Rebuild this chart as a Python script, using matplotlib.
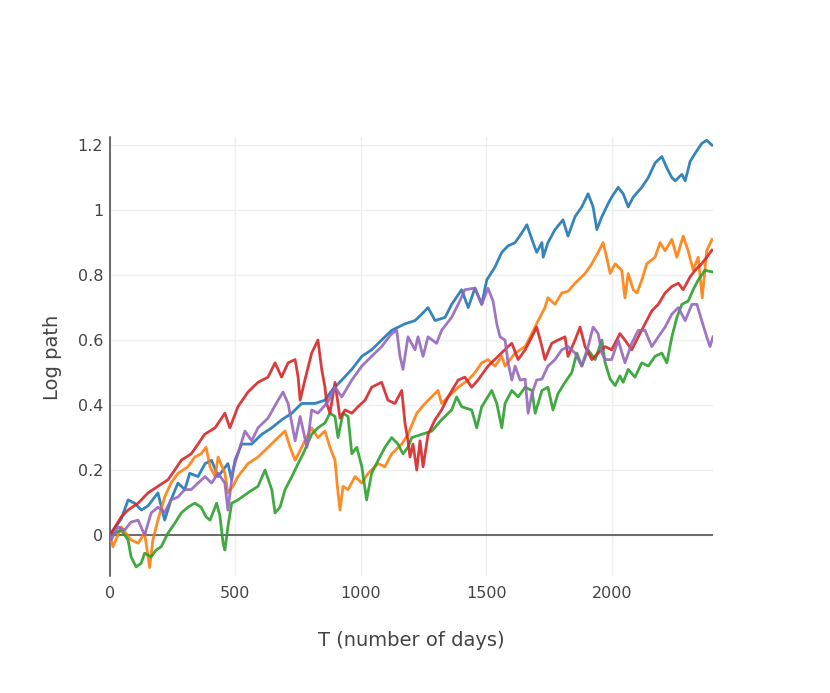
import matplotlib
matplotlib.use("Agg")
import matplotlib.pyplot as plt

# ---- data (day, log path) ----
blue_days = [0, 45, 72, 98, 125, 152, 191, 218, 243, 271, 298, 318, 351, 379, 405, 431, 470, 485, 498, 525, 565, 605, 645, 685, 725, 764, 817, 857, 884, 924, 964, 1004, 1043, 1083, 1123, 1176, 1216, 1243, 1268, 1296, 1336, 1362, 1402, 1428, 1455, 1482, 1502, 1535, 1562, 1587, 1615, 1642, 1662, 1682, 1701, 1722, 1727, 1746, 1774, 1806, 1826, 1854, 1881, 1906, 1926, 1941, 1961, 1986, 2000, 2026, 2046, 2066, 2086, 2120, 2146, 2173, 2200, 2220, 2240, 2253, 2280, 2293, 2313, 2333, 2359, 2379, 2400]
blue_vals = [0.0, 0.05, 0.108, 0.098, 0.077, 0.09, 0.13, 0.046, 0.108, 0.16, 0.14, 0.19, 0.18, 0.22, 0.23, 0.18, 0.22, 0.17, 0.23, 0.28, 0.28, 0.31, 0.33, 0.355, 0.375, 0.405, 0.405, 0.415, 0.445, 0.477, 0.51, 0.55, 0.57, 0.60, 0.63, 0.65, 0.66, 0.68, 0.70, 0.66, 0.67, 0.71, 0.755, 0.70, 0.76, 0.71, 0.785, 0.825, 0.87, 0.89, 0.90, 0.93, 0.955, 0.91, 0.87, 0.90, 0.855, 0.90, 0.94, 0.97, 0.92, 0.98, 1.01, 1.05, 1.01, 0.94, 0.98, 1.02, 1.04, 1.07, 1.05, 1.01, 1.04, 1.07, 1.10, 1.145, 1.165, 1.13, 1.10, 1.09, 1.11, 1.09, 1.15, 1.175, 1.205, 1.215, 1.20]

orange_days = [0, 12, 45, 84, 112, 138, 158, 171, 191, 218, 243, 271, 311, 338, 363, 383, 399, 419, 431, 458, 470, 490, 510, 550, 590, 630, 670, 698, 718, 738, 764, 804, 829, 857, 877, 897, 909, 917, 929, 949, 977, 1004, 1029, 1069, 1096, 1123, 1163, 1188, 1223, 1256, 1308, 1322, 1348, 1388, 1428, 1455, 1482, 1507, 1535, 1562, 1575, 1615, 1655, 1682, 1707, 1734, 1746, 1774, 1801, 1826, 1854, 1894, 1921, 1946, 1966, 1980, 1994, 2014, 2040, 2053, 2066, 2086, 2101, 2120, 2140, 2173, 2193, 2213, 2240, 2260, 2285, 2305, 2325, 2345, 2361, 2379, 2400]
orange_vals = [0.0, -0.036, 0.025, -0.015, -0.025, 0.006, -0.10, -0.015, 0.046, 0.117, 0.16, 0.19, 0.21, 0.24, 0.25, 0.27, 0.21, 0.18, 0.24, 0.19, 0.13, 0.15, 0.18, 0.22, 0.24, 0.27, 0.30, 0.32, 0.27, 0.23, 0.27, 0.33, 0.30, 0.32, 0.27, 0.23, 0.13, 0.077, 0.15, 0.14, 0.18, 0.16, 0.19, 0.22, 0.21, 0.25, 0.28, 0.31, 0.375, 0.405, 0.445, 0.405, 0.425, 0.455, 0.477, 0.50, 0.53, 0.54, 0.52, 0.55, 0.52, 0.56, 0.58, 0.62, 0.66, 0.70, 0.73, 0.71, 0.745, 0.75, 0.775, 0.805, 0.835, 0.87, 0.90, 0.855, 0.805, 0.835, 0.815, 0.73, 0.805, 0.755, 0.745, 0.785, 0.835, 0.855, 0.90, 0.875, 0.91, 0.855, 0.92, 0.875, 0.815, 0.855, 0.73, 0.875, 0.91]

green_days = [0, 45, 72, 84, 104, 124, 138, 164, 184, 204, 231, 258, 284, 311, 338, 363, 383, 399, 425, 438, 451, 458, 470, 485, 510, 550, 590, 618, 645, 658, 678, 698, 725, 750, 770, 804, 829, 857, 877, 897, 909, 929, 949, 964, 984, 1004, 1023, 1043, 1069, 1096, 1123, 1148, 1168, 1188, 1203, 1243, 1283, 1322, 1362, 1382, 1402, 1442, 1462, 1482, 1522, 1542, 1562, 1575, 1602, 1627, 1655, 1682, 1695, 1722, 1746, 1766, 1786, 1814, 1841, 1861, 1881, 1906, 1934, 1961, 1974, 1994, 2014, 2033, 2046, 2066, 2093, 2120, 2146, 2173, 2200, 2220, 2240, 2260, 2280, 2305, 2325, 2345, 2372, 2400]
green_vals = [0.0, 0.015, -0.015, -0.067, -0.098, -0.087, -0.056, -0.067, -0.046, -0.036, 0.006, 0.036, 0.068, 0.086, 0.098, 0.086, 0.056, 0.046, 0.098, 0.06, -0.026, -0.046, 0.025, 0.098, 0.108, 0.13, 0.15, 0.20, 0.14, 0.068, 0.086, 0.14, 0.18, 0.22, 0.25, 0.31, 0.33, 0.345, 0.375, 0.365, 0.30, 0.375, 0.365, 0.25, 0.27, 0.21, 0.108, 0.19, 0.23, 0.27, 0.30, 0.28, 0.25, 0.27, 0.30, 0.31, 0.32, 0.355, 0.385, 0.425, 0.395, 0.385, 0.33, 0.395, 0.445, 0.405, 0.33, 0.405, 0.445, 0.425, 0.455, 0.445, 0.375, 0.445, 0.455, 0.385, 0.435, 0.47, 0.50, 0.56, 0.52, 0.57, 0.54, 0.60, 0.53, 0.48, 0.46, 0.49, 0.47, 0.51, 0.486, 0.53, 0.52, 0.55, 0.56, 0.53, 0.61, 0.67, 0.71, 0.72, 0.755, 0.785, 0.815, 0.81]

red_days = [0, 45, 72, 112, 152, 191, 231, 258, 284, 324, 351, 377, 419, 458, 478, 510, 550, 590, 630, 658, 684, 710, 738, 750, 758, 777, 804, 829, 844, 857, 864, 877, 897, 917, 937, 964, 989, 1017, 1043, 1083, 1108, 1136, 1163, 1176, 1188, 1196, 1208, 1223, 1236, 1248, 1268, 1296, 1322, 1348, 1388, 1415, 1442, 1467, 1507, 1547, 1587, 1602, 1627, 1655, 1682, 1701, 1722, 1734, 1761, 1786, 1814, 1826, 1854, 1874, 1894, 1921, 1946, 1974, 2000, 2033, 2053, 2080, 2106, 2133, 2160, 2186, 2213, 2240, 2266, 2285, 2313, 2333, 2359, 2379, 2400]
red_vals = [0.0, 0.056, 0.077, 0.098, 0.13, 0.15, 0.17, 0.20, 0.23, 0.25, 0.28, 0.31, 0.33, 0.375, 0.33, 0.395, 0.44, 0.47, 0.486, 0.53, 0.486, 0.53, 0.54, 0.486, 0.415, 0.477, 0.56, 0.60, 0.51, 0.455, 0.405, 0.375, 0.47, 0.36, 0.385, 0.375, 0.395, 0.415, 0.455, 0.47, 0.415, 0.405, 0.445, 0.345, 0.29, 0.24, 0.28, 0.20, 0.29, 0.21, 0.31, 0.355, 0.385, 0.425, 0.477, 0.486, 0.455, 0.477, 0.52, 0.55, 0.58, 0.59, 0.54, 0.57, 0.61, 0.64, 0.58, 0.54, 0.59, 0.60, 0.61, 0.55, 0.60, 0.64, 0.58, 0.54, 0.56, 0.58, 0.57, 0.62, 0.60, 0.57, 0.61, 0.65, 0.69, 0.71, 0.745, 0.765, 0.775, 0.755, 0.795, 0.815, 0.835, 0.855, 0.877]

purple_days = [0, 5, 32, 58, 84, 112, 138, 164, 191, 218, 243, 271, 298, 324, 351, 379, 405, 431, 458, 470, 490, 510, 538, 565, 590, 630, 670, 690, 710, 738, 758, 785, 804, 829, 869, 897, 924, 964, 1004, 1043, 1083, 1123, 1143, 1156, 1168, 1188, 1216, 1228, 1248, 1268, 1302, 1322, 1362, 1388, 1415, 1455, 1482, 1507, 1527, 1542, 1555, 1575, 1587, 1602, 1615, 1635, 1655, 1667, 1682, 1701, 1722, 1746, 1774, 1801, 1826, 1854, 1881, 1906, 1926, 1946, 1961, 1974, 2000, 2026, 2053, 2080, 2106, 2133, 2160, 2186, 2213, 2240, 2266, 2293, 2320, 2340, 2359, 2379, 2392, 2404]
purple_vals = [0.0, -0.015, 0.025, 0.015, 0.04, 0.046, 0.0, 0.068, 0.086, 0.07, 0.108, 0.117, 0.14, 0.14, 0.16, 0.18, 0.16, 0.19, 0.16, 0.077, 0.20, 0.25, 0.32, 0.29, 0.33, 0.36, 0.415, 0.44, 0.405, 0.29, 0.365, 0.27, 0.385, 0.375, 0.41, 0.455, 0.425, 0.477, 0.52, 0.55, 0.58, 0.62, 0.63, 0.55, 0.51, 0.61, 0.57, 0.61, 0.55, 0.61, 0.59, 0.63, 0.67, 0.71, 0.755, 0.76, 0.71, 0.76, 0.72, 0.65, 0.61, 0.60, 0.53, 0.477, 0.52, 0.477, 0.48, 0.375, 0.435, 0.477, 0.48, 0.52, 0.54, 0.57, 0.58, 0.56, 0.52, 0.58, 0.64, 0.62, 0.56, 0.54, 0.54, 0.60, 0.53, 0.59, 0.63, 0.63, 0.58, 0.61, 0.64, 0.68, 0.70, 0.66, 0.71, 0.71, 0.66, 0.61, 0.58, 0.61]

x_ticks = [0, 500, 1000, 1500, 2000]
y_ticks = [0, 0.2, 0.4, 0.6, 0.8, 1.0, 1.2]
y_tick_labels = ["0", "0.2", "0.4", "0.6", "0.8", "1", "1.2"]

series = [
    (blue_days, blue_vals, "#1f77b4"),
    (orange_days, orange_vals, "#ff7f0e"),
    (green_days, green_vals, "#2ca02c"),
    (red_days, red_vals, "#d62728"),
    (purple_days, purple_vals, "#9467bd"),
]

plt.rcParams['font.family'] = ['DejaVu Sans']
fig = plt.figure(figsize=(8.30, 6.93), dpi=100)
ax = fig.add_axes([110/830, 1 - 576/693, (713 - 110)/830, (576 - 137)/693])

for d, v, c in series:
    ax.plot(d, v, color=c, lw=2.0, alpha=0.9, solid_joinstyle='round', zorder=3)

ax.set_xlim(0, 2404)
ax.set_ylim(-0.126, 1.225)
ax.set_xticks(x_ticks)
ax.set_yticks(y_ticks)
ax.set_yticklabels(y_tick_labels)
ax.grid(True, color="#eeeeee", lw=1)
ax.set_axisbelow(True)
ax.axhline(0, color="#444444", lw=1.1, zorder=2)

for s in ["top", "right", "bottom"]:
    ax.spines[s].set_visible(False)
ax.spines["left"].set_color("#444444")
ax.spines["left"].set_linewidth(1.1)
ax.tick_params(axis="both", length=0, labelsize=11.5, colors="#444444")
ax.tick_params(axis="y", pad=5)
ax.tick_params(axis="x", pad=7)

fig.text(411/830, 1 - 641/693, "T (number of days)", ha="center", va="center",
         fontsize=14, color="#444444")
fig.text(52/830, 1 - 357/693, "Log path", ha="center", va="center",
         rotation=90, fontsize=14, color="#444444")

fig.savefig("out.png", dpi=100, facecolor="white")
